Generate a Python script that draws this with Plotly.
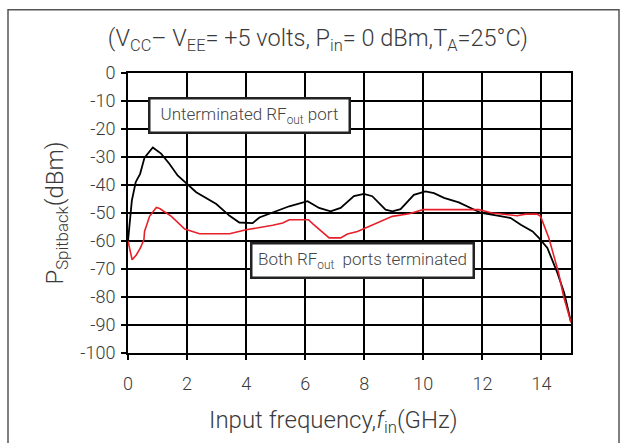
import plotly.graph_objects as go

# Unterminated RF_out port (black)
x_unterm = [0.0, 0.13, 0.26, 0.41, 0.56, 0.84, 1.12, 1.4, 1.68, 2.0, 2.31, 2.99, 3.44, 3.77, 4.22, 4.45,
            4.9, 5.46, 6.08, 6.47, 6.86, 7.2, 7.65, 7.99, 8.27, 8.72, 8.95, 9.23, 9.68, 10.07, 10.36,
            10.7, 11.2, 11.65, 11.96, 12.56, 12.96, 13.3, 13.7, 13.92, 14.2, 14.54, 14.77, 15.0]
y_unterm = [-60, -45.6, -39, -36, -30.2, -26.6, -28.8, -32.4, -36.6, -39.8, -42.6, -46.8, -51, -53.4, -53.6, -51.6,
            -49.8, -47.6, -45.8, -48.2, -49.4, -48.2, -44, -43.2, -44, -48.8, -49.4, -48.6, -43.5, -42.3, -42.9,
            -44.6, -46.2, -48.6, -50, -51, -51.8, -54.2, -56.6, -59, -62.5, -71.4, -78.6, -89]

# Both RF_out ports terminated (red)
x_term = [0.0, 0.06, 0.14, 0.28, 0.42, 0.54, 0.56, 0.73, 0.96, 1.07, 1.3, 1.47, 1.92, 2.42, 3.44, 4.0,
          4.9, 5.24, 5.46, 6.11, 6.25, 6.81, 7.2, 7.43, 7.77, 8.95, 9.52, 9.99, 11.88, 12.33, 13.18,
          13.46, 13.85, 13.97, 14.25, 14.58, 14.75, 15.0]
y_term = [-60, -62.5, -66.7, -65, -62.5, -59.5, -56.6, -51.2, -48, -48.4, -50, -51.2, -55.7, -57.4, -57.4, -56,
          -54.4, -53.6, -52.4, -52.4, -53.8, -58.9, -58.9, -57.5, -56.6, -51.2, -50.3, -48.8, -48.8, -50, -51,
          -50.4, -50.4, -51.2, -58.9, -71.4, -79.8, -89]

x_ticks = [0, 2, 4, 6, 8, 10, 12, 14]
y_ticks = [0, -10, -20, -30, -40, -50, -60, -70, -80, -90, -100]
x_range = [0, 15]
y_range = [-100, 0]

FONT = "Roboto"
TXT = "#3a3a3a"

fig = go.Figure()
fig.add_trace(go.Scatter(x=x_unterm, y=y_unterm, mode="lines",
                         line=dict(color="black", width=1.8), showlegend=False))
fig.add_trace(go.Scatter(x=x_term, y=y_term, mode="lines",
                         line=dict(color="#e8202a", width=1.6), showlegend=False))

fig.update_layout(
    width=627, height=443,
    margin=dict(l=128, r=56, t=73, b=90),
    paper_bgcolor="white", plot_bgcolor="white",
    font=dict(family=FONT, color=TXT, size=18, weight=300),
    title=dict(text="(V<sub>CC</sub>– V<sub>EE</sub>= +5 volts, P<sub>in</sub>= 0 dBm,T<sub>A</sub>=25°C)",
               x=0.507, xref="container", xanchor="center", y=0.915, yanchor="middle",
               font=dict(size=23.5, family=FONT, color=TXT, weight=300)),
    xaxis=dict(range=x_range, tickvals=x_ticks, ticktext=[str(v) for v in x_ticks],
               showgrid=True, gridcolor="#000000", gridwidth=1.6,
               showline=True, linecolor="black", linewidth=2, mirror=True,
               ticks="outside", ticklen=5, tickcolor="black", tickwidth=1.5,
               ticklabelstandoff=8,
               zeroline=False, tickfont=dict(size=18)),
    yaxis=dict(range=y_range, tickvals=y_ticks, ticktext=[str(v) for v in y_ticks],
               showgrid=True, gridcolor="#000000", gridwidth=1.6,
               showline=True, linecolor="black", linewidth=2, mirror=True,
               ticks="outside", ticklen=5, tickcolor="black", tickwidth=1.5,
               ticklabelstandoff=2,
               zeroline=False, tickfont=dict(size=18),
               title=dict(text="P<sub>Spitback</sub>(dBm)", font=dict(size=24), standoff=10)),
)

# x-axis title (placed slightly left of the plot centre, as in the original)
fig.add_annotation(x=0.463, y=-0.245, xref="paper", yref="paper", xanchor="center", yanchor="middle",
                   text="Input frequency,<i>f</i><sub>in</sub>(GHz)", showarrow=False,
                   font=dict(size=24, color=TXT))

fig.add_annotation(x=4.13, y=-15.1, xref="x", yref="y",
                   text="Unterminated RF<sub>out</sub> port", showarrow=False,
                   font=dict(size=17, color="#444444"), bgcolor="white",
                   width=190, height=24,
                   bordercolor="#222222", borderwidth=2.5, borderpad=4)
fig.add_annotation(x=7.95, y=-67.0, xref="x", yref="y",
                   text="Both RF<sub>out</sub>  ports terminated", showarrow=False,
                   font=dict(size=17, color="#444444"), bgcolor="white",
                   width=212, height=24,
                   bordercolor="#222222", borderwidth=2.5, borderpad=4)

# outer frame of the figure
fig.add_shape(type="rect", xref="paper", yref="paper",
              x0=(8 - 128) / 443, x1=(619 - 128) / 443,
              y0=(353.3 - 460) / 280, y1=(353.3 - 10) / 280,
              line=dict(color="#555555", width=1.5), fillcolor="rgba(0,0,0,0)", layer="above")

fig.write_html("out.html")
